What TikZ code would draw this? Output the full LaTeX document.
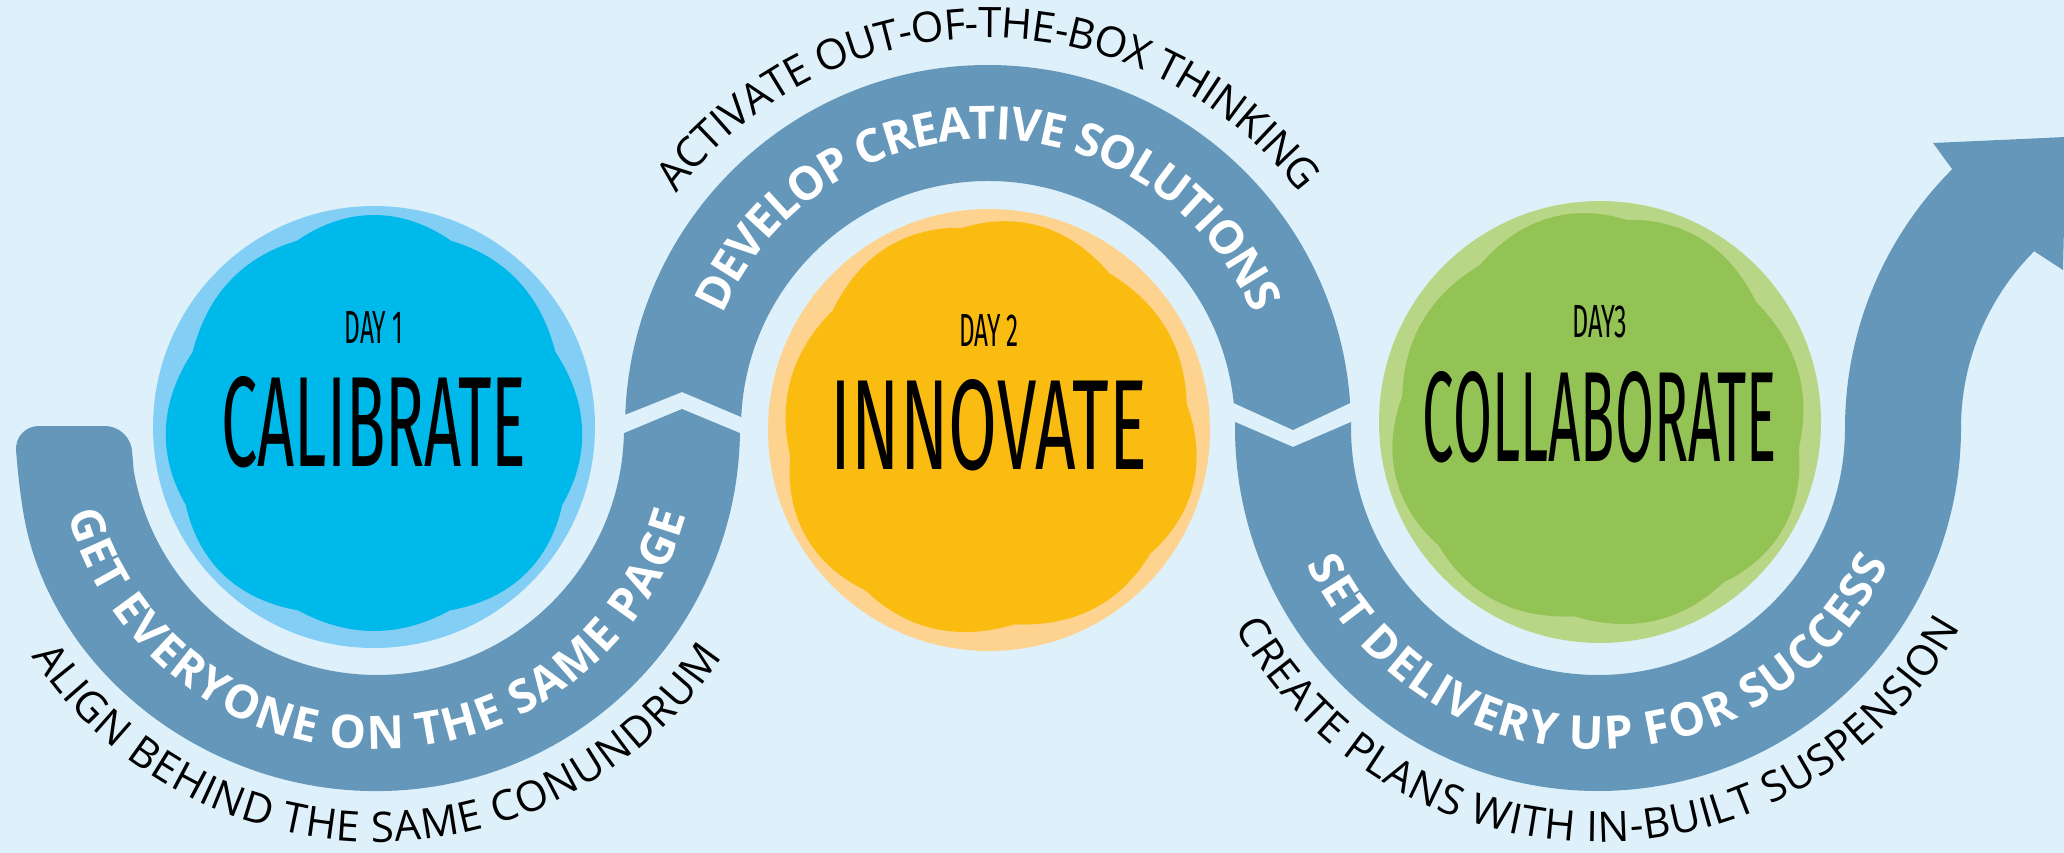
\documentclass[tikz,border=0pt]{standalone}
\usepackage{fontspec}
\usepackage{graphicx}
\usetikzlibrary{calc,decorations.text}
\newfontfamily\bandfamily{Open Sans}
\newfontfamily\dayfamily{Fira Sans}

\definecolor{bgblue}{HTML}{DEF1FA}
\definecolor{bandblue}{HTML}{6497B9}
\definecolor{ringA}{HTML}{83CEF5}
\definecolor{blobA}{HTML}{00B9EB}
\definecolor{ringB}{HTML}{FDD38F}
\definecolor{blobB}{HTML}{FBBC12}
\definecolor{ringC}{HTML}{B9D687}
\definecolor{blobC}{HTML}{93C255}

\def\outr{363}
\def\inr{247}
\def\midr{305}
\def\noter{405}
\def\lownoter{399}

\tikzset{
  band/.style={fill=bandblue},
  bandtext/.style={decorate, decoration={text along path, text align=center, raise=-16.4pt,
      text={|\bandfamily\bfseries\fontsize{46}{50}\selectfont\color{white}|#1}}},
  notetext/.style={decorate, decoration={text along path, text align=center, raise=-15pt,
      text={|\bandfamily\fontsize{42}{46}\selectfont|#1}}}
}

\begin{document}
\begin{tikzpicture}[x=1pt,y=1pt]

\useasboundingbox (0,0) rectangle (2064,-853);
\fill[bgblue] (0,0) rectangle (2064,-853);
\clip (0,0) rectangle (2064,-853);

%centres of the three bends (and of the last curve up to the arrow)
\coordinate (c1) at (377,-428);
\coordinate (c2) at (988,-428);
\coordinate (c3) at (1598,-428);
\coordinate (c4) at (2211,-428);

%the three days: ring, wavy blob, labels
\foreach \cx/\cy/\ring/\blob/\ph/\dlabel/\dw/\wlabel/\ww [count=\i] in {
    374/-427/ringA/blobA/90/DAY 1/59/CALIBRATE/305,
    989/-430/ringB/blobB/75/DAY 2/60/INNOVATE/316,
    1600/-422/ringC/blobC/105/DAY3/55/COLLABORATE/354}{

    \fill[\ring] (\cx,\cy) circle [radius=221];
    \fill[\blob] plot[domain=0:360, samples=241, variable=\t]
        ({\cx+(200+8*abs(cos(4*(\t-\ph)))+4*cos(3*\t+\ph))*cos(\t)},
         {\cy+(200+8*abs(cos(4*(\t-\ph)))+4*cos(3*\t+\ph))*sin(\t)}) -- cycle;

    \node[inner sep=0] (day\i) at (\cx,\cy+100) {\resizebox{\dw pt}{32pt}{\dayfamily \dlabel}};
    \node[inner sep=0] (word\i) at (\cx,\cy+5) {\resizebox{\ww pt}{90pt}{\dayfamily \wlabel}};
}

%This is the first band (left, round the bottom)
\fill[band] ($(c1)+(190:\inr)$) [rounded corners=25] -- (130,-426) -- (14,-426)
    -- ($(c1)+(190:\outr)$) [sharp corners] arc[start angle=190, end angle=359.2, radius=\outr]
    -- (682,-409) -- ($(c1)+(358.8:\inr)$) arc[start angle=358.8, end angle=190, radius=\inr] -- cycle;

%second band (over the top)
\fill[band] ($(c2)+(177.9:\outr)$) arc[start angle=177.9, end angle=3.95, radius=\outr]
    -- (1293,-430) -- ($(c2)+(5.8:\inr)$) arc[start angle=5.8, end angle=177.45, radius=\inr]
    -- (682,-392) -- cycle;

%third band, bending up into the arrow
\fill[band] ($(c3)+(179.05:\outr)$) arc[start angle=179.05, end angle=360, radius=\outr]
    arc[start angle=180, end angle=135, radius=250]
    -- (2063,-270) -- (2066,-137) -- (1933,-143)
    -- ($(c4)+(135:366)$) arc[start angle=135, end angle=180, radius=366]
    arc[start angle=360, end angle=178.6, radius=\inr] -- (1293,-447) -- cycle;

%texts on and round the bands
\path[bandtext={GET EVERYONE ON THE SAME PAGE}] ($(c1)+(180:\midr)$) arc[start angle=180, end angle=360, radius=\midr];
\path[notetext={ALIGN BEHIND THE SAME CONUNDRUM}] ($(c1)+(180:\lownoter)$) arc[start angle=180, end angle=360, radius=\lownoter];

\path[bandtext={DEVELOP CREATIVE SOLUTIONS}] ($(c2)+(180:\midr)$) arc[start angle=180, end angle=0, radius=\midr];
\path[notetext={ACTIVATE OUT-OF-THE-BOX THINKING}] ($(c2)+(180:\noter)$) arc[start angle=180, end angle=0, radius=\noter];

\path[bandtext={SET DELIVERY UP FOR SUCCESS}] ($(c3)+(180:\midr)$) arc[start angle=180, end angle=360, radius=\midr];
\path[notetext={CREATE PLANS WITH IN-BUILT SUSPENSION}] ($(c3)+(180:\lownoter)$) arc[start angle=180, end angle=360, radius=\lownoter];

\end{tikzpicture}
\end{document}
